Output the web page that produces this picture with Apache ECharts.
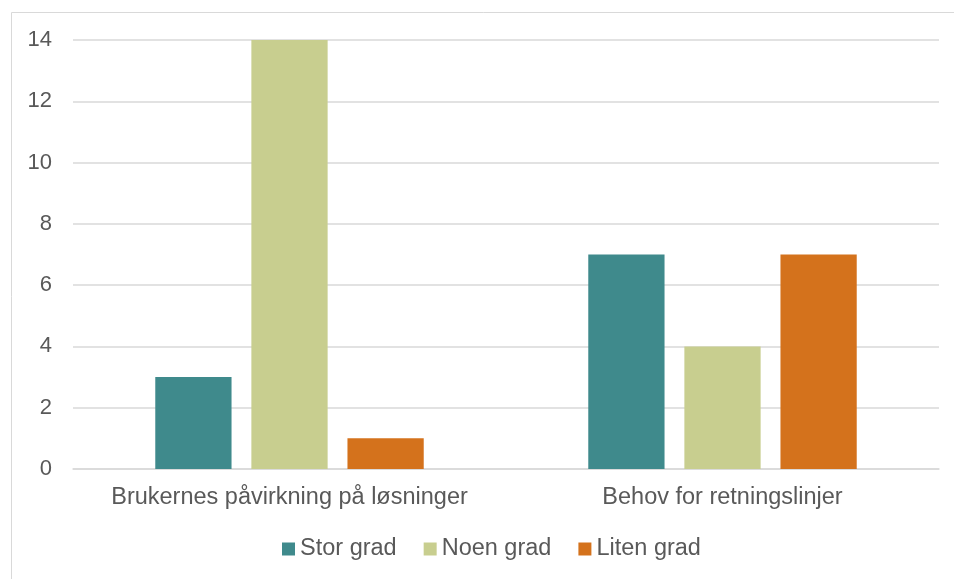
<!DOCTYPE html>
<html>
<head>
<meta charset="utf-8">
<script src="https://cdn.jsdelivr.net/npm/echarts@6/dist/echarts.min.js"></script>
<style>
  html, body { margin: 0; padding: 0; background: #fff; }
  #chart { width: 954px; height: 579px; }
</style>
</head>
<body>
<div id="chart"></div>
<script>
var categories = ['Brukernes påvirkning på løsninger', 'Behov for retningslinjer']
var storGrad = [3, 7]
var noenGrad = [14, 4]
var litenGrad = [1, 7]

var myChart = echarts.init(document.getElementById('chart'))

var option = {
  animation: false,
  textStyle: { fontFamily: 'Liberation Sans, Arial, sans-serif' },
  graphic: [
    {
      type: 'rect',
      left: 9,
      top: 10,
      shape: { width: 1000, height: 1000 },
      style: { fill: 'none', stroke: '#d9d9d9', lineWidth: 1 },
      z: -1
    }
  ],
  grid: { left: 73, right: 15, top: 40, bottom: 110 },
  legend: {
    top: 537,
    left: 282,
    padding: 0,
    itemWidth: 13,
    itemHeight: 13,
    itemGap: 27,
    icon: 'rect',
    textStyle: { fontSize: 23.5, color: '#595959' },
    data: ['Stor grad', 'Noen grad', 'Liten grad']
  },
  xAxis: {
    type: 'category',
    data: categories,
    axisLine: { lineStyle: { color: '#d9d9d9', width: 1.5 } },
    axisTick: { show: false },
    axisLabel: { fontSize: 23.5, color: '#595959', margin: 17, interval: 0 }
  },
  yAxis: {
    type: 'value',
    min: 0,
    max: 14,
    interval: 2,
    axisLine: { show: false },
    axisTick: { show: false },
    axisLabel: { fontSize: 22, color: '#595959', margin: 21 },
    splitLine: { lineStyle: { color: '#d9d9d9', width: 1.5 } }
  },
  series: [
    {
      name: 'Stor grad',
      type: 'bar',
      data: storGrad,
      barGap: '26%',
      barCategoryGap: '38%',
      itemStyle: { color: '#3f8a8c' }
    },
    {
      name: 'Noen grad',
      type: 'bar',
      data: noenGrad,
      itemStyle: { color: '#c8ce8f' }
    },
    {
      name: 'Liten grad',
      type: 'bar',
      data: litenGrad,
      itemStyle: { color: '#d4721c' }
    }
  ]
}

myChart.setOption(option)
</script>
</body>
</html>
